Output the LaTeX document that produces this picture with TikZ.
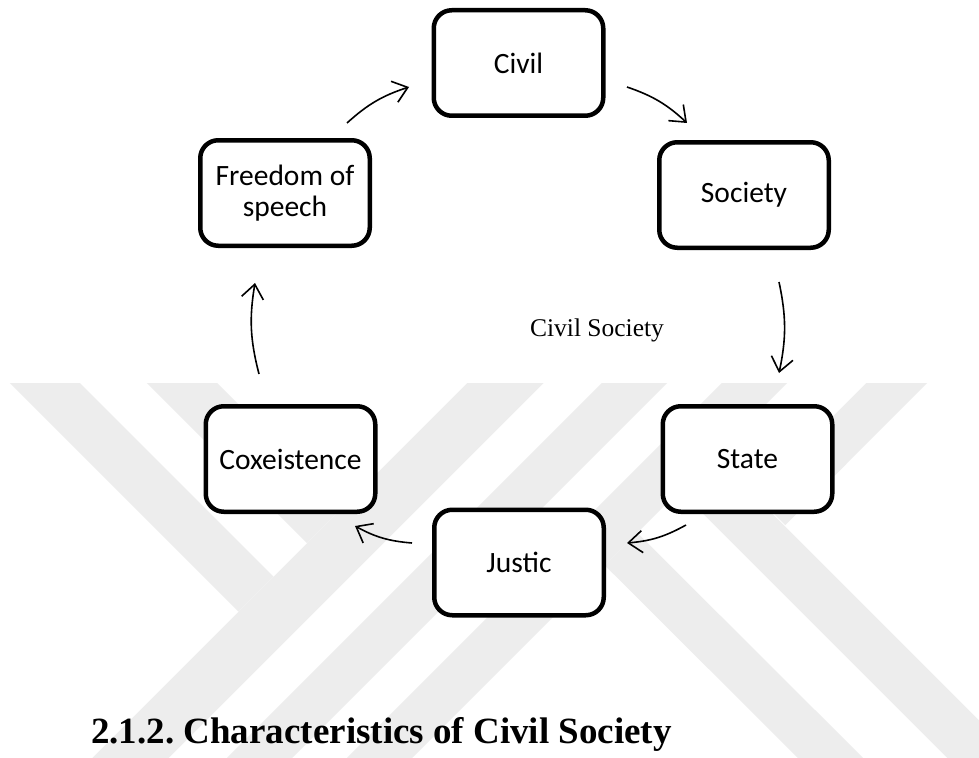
\documentclass[tikz,border=0pt]{standalone}
\usepackage{fontspec}
\setmainfont{Liberation Serif}
\newfontfamily\boxfont{Carlito}
\usetikzlibrary{arrows.meta}
\definecolor{wmark}{RGB}{237,237,237}
\begin{document}
\begin{tikzpicture}[x=1pt,y=-1pt,
  cyclebox/.style={draw=black, line width=4.5pt, rounded corners=18pt, fill=white,
    minimum width=169.5pt, minimum height=105.5pt, inner sep=0pt, align=center,
    font=\boxfont\fontsize{29.5}{31}\selectfont},
  cyclearrow/.style={line width=1.6pt, bend left=12,
    -{Straight Barb[length=14pt,width=22pt,line width=1.6pt]}},
  band/.style={draw=wmark, line cap=butt}
]
\useasboundingbox[fill=white] (0,0) rectangle (979,757);

% faint watermark
\begin{scope}
\clip (0,383) rectangle (979,757);
\draw[band, line width=49.5pt] (-5,333) -- (256,594);
\draw[band, line width=49.5pt] (132,333) -- (324.5,525.5);
\draw[band, line width=54pt] (555.5,333) -- (88.5,800);
\draw[band, line width=46pt] (684.5,333) -- (217.5,800);
\draw[band, line width=46pt] (804.5,333) -- (337.5,800);
\draw[band, line width=43pt] (946.5,333) -- (770,510);
\draw[band, line width=49pt] (697,473) -- (1100,876);
\draw[band, line width=46pt] (621,549) -- (1000,927);
\end{scope}

\node[cyclebox] (civil) at (518.5,63) {Civil};
\node[cyclebox] (society) at (744,195) {Society};
\node[cyclebox] (freedom) at (285,193) {Freedom of\\speech};
\node[cyclebox] (cox) at (290.5,459) {Coxeistence};
\node[cyclebox] (state) at (747.5,459) {State};
\node[cyclebox] (justic) at (519,562.5) {Justic};

\node[font=\fontsize{25.5}{30}\selectfont] (center) at (597,330) {Civil Society};
\node[anchor=base west, inner sep=0pt, font=\bfseries\fontsize{37}{44}\selectfont\frenchspacing] (heading) at (91,743) {2.1.2. Characteristics of Civil Society};

\coordinate (a1s) at (347,123); \coordinate (a1e) at (409,87);
\coordinate (a2s) at (627,87);  \coordinate (a2e) at (687,123);
\coordinate (a3s) at (779,282); \coordinate (a3e) at (779,373);
\coordinate (a4s) at (686,525); \coordinate (a4e) at (627,543);
\coordinate (a5s) at (412,543); \coordinate (a5e) at (355,526);
\coordinate (a6s) at (259,374); \coordinate (a6e) at (255,283);

\draw[cyclearrow] (a1s) to (a1e);
\draw[cyclearrow] (a2s) to (a2e);
\draw[cyclearrow] (a3s) to (a3e);
\draw[cyclearrow] (a4s) to (a4e);
\draw[cyclearrow] (a5s) to (a5e);
\draw[cyclearrow] (a6s) to (a6e);
\end{tikzpicture}
\end{document}
